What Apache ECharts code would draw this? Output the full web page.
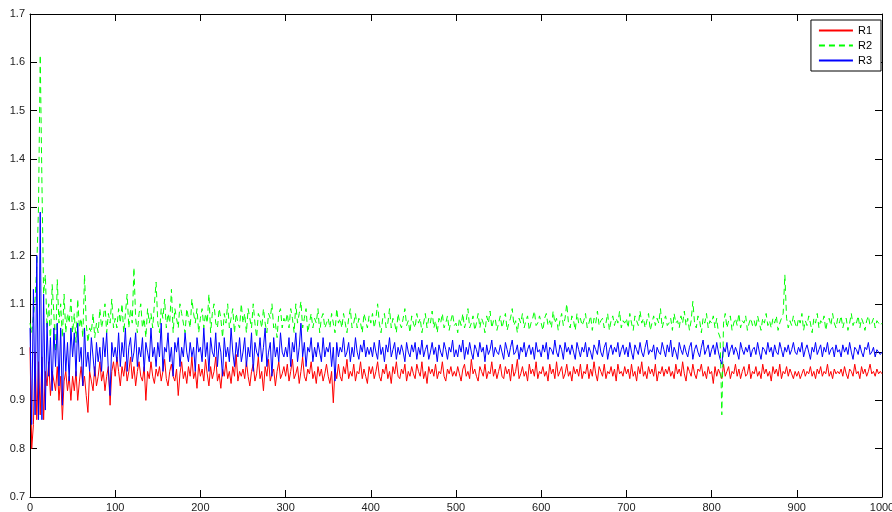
<!DOCTYPE html>
<html>
<head>
<meta charset="utf-8">
<script src="https://cdn.jsdelivr.net/npm/echarts@6/dist/echarts.min.js"></script>
<style>html,body{margin:0;padding:0;background:#fff}#c{width:892px;height:512px}</style>
</head>
<body>
<div id="c"></div>
<script>
// x step between samples (iterations)
const xStep = 2;
const xTicks = [0,100,200,300,400,500,600,700,800,900,1000];
const yTicks = [0.7,0.8,0.9,1,1.1,1.2,1.3,1.4,1.5,1.6,1.7];
const seriesNames = ['R1','R2','R3'];

// values in thousandths
const R1 = [
1010,800,850,1000,860,980,870,990,860,960,930,980,910,960,940,920,970,900,950,860,940,960,920,950,900,
950,920,960,900,940,970,930,950,910,875,960,940,920,970,930,950,980,940,960,920,950,970,890,960,980,
950,990,960,930,970,950,980,940,960,990,945,970,930,960,980,950,940,970,900,960,945,980,950,935,965,
950,970,940,960,985,945,930,960,975,950,940,965,910,955,980,945,960,935,970,950,990,945,960,925,975,
950,965,940,985,955,930,970,945,960,990,940,955,925,965,950,980,945,960,935,970,950,995,940,960,950,
965,945,980,950,930,960,975,940,955,990,945,960,920,970,950,985,940,955,965,930,960,980,945,955,970,
950,975,940,960,985,945,955,970,935,960,990,950,940,965,955,980,945,960,935,970,950,965,940,955,975,
950,935,960,895,965,945,975,950,940,970,955,985,945,960,950,975,940,960,955,980,945,965,950,935,970,
955,970,945,960,980,950,940,965,955,975,945,960,935,970,955,980,950,945,965,955,975,940,960,950,970,
955,945,975,960,950,980,945,960,935,970,955,965,950,975,945,960,955,980,950,940,965,955,970,950,960,
950,970,955,940,965,975,950,960,945,985,955,965,950,940,970,960,950,975,945,960,955,980,950,965,945,
960,975,950,945,970,955,965,940,975,950,960,985,945,955,970,950,960,940,975,955,965,950,980,945,960,
955,970,950,960,940,975,955,965,945,980,950,960,970,945,955,975,950,960,940,970,955,965,950,975,945,
960,955,975,945,965,950,980,955,940,970,960,950,975,945,960,955,970,950,965,940,975,955,960,950,970,
955,965,945,975,950,960,940,970,955,980,950,960,945,970,955,965,950,975,940,960,955,970,950,965,955,
970,950,960,945,975,955,965,950,980,955,940,970,960,950,975,955,945,965,960,975,950,960,945,970,955,
960,935,970,950,965,955,945,975,950,960,970,945,960,955,975,950,965,945,960,970,950,955,975,945,960,
955,970,950,960,945,975,955,965,950,960,940,970,955,965,950,975,945,960,955,970,950,965,955,945,960,
950,960,945,955,965,950,960,955,970,950,960,945,965,955,970,950,960,955,975,950,960,945,965,955,960,
955,965,950,970,955,945,965,960,950,975,955,960,945,970,955,965,950,960,975,955,960,950,965,955,960,
955];

const R2 = [
1060,1040,1075,1110,1180,1300,1615,1350,1120,1160,1050,1100,1020,1140,1080,1000,1150,1060,1100,1030,1120,1040,1080,1060,1110,
1040,1080,1020,1110,1050,1070,1030,1160,1060,1020,1050,1040,1080,1030,1060,1040,1090,1050,1070,1100,1040,1080,1060,1110,1050,
1070,1050,1090,1060,1100,1040,1080,1120,1050,1090,1060,1175,1070,1040,1080,1100,1050,1070,1030,1090,1060,1080,1050,1100,1145,
1060,1040,1090,1070,1110,1050,1080,1060,1130,1040,1090,1070,1050,1100,1080,1060,1040,1090,1070,1050,1110,1080,1060,1090,1040,
1070,1090,1050,1080,1060,1120,1040,1080,1100,1060,1050,1090,1070,1030,1080,1060,1100,1050,1070,1090,1040,1080,1060,1050,1100,
1060,1080,1040,1090,1070,1050,1100,1060,1030,1080,1070,1050,1090,1060,1040,1080,1070,1100,1050,1060,1030,1080,1090,1050,1070,
1060,1080,1050,1090,1070,1040,1100,1060,1080,1105,1050,1070,1090,1040,1060,1080,1050,1070,1060,1090,1040,1070,1080,1050,1060,
1070,1050,1080,1060,1040,1090,1060,1070,1050,1080,1060,1040,1070,1090,1050,1060,1080,1050,1070,1060,1040,1080,1065,1050,1075,
1060,1080,1050,1070,1100,1060,1040,1070,1080,1050,1060,1090,1050,1070,1060,1040,1080,1060,1050,1070,1090,1055,1065,1040,1075,
1060,1050,1080,1060,1070,1040,1060,1080,1050,1070,1060,1085,1050,1065,1040,1070,1060,1080,1050,1060,1075,1045,1065,1080,1055,
1060,1040,1070,1055,1080,1050,1065,1090,1050,1060,1075,1045,1060,1080,1050,1070,1060,1040,1075,1060,1085,1050,1065,1070,1045,
1060,1075,1050,1065,1080,1045,1060,1070,1090,1055,1065,1040,1070,1060,1080,1050,1065,1075,1045,1060,1070,1085,1055,1060,1075,
1060,1045,1070,1080,1055,1065,1050,1085,1060,1070,1045,1065,1080,1055,1070,1100,1060,1050,1075,1065,1045,1080,1060,1070,1055,
1065,1080,1050,1060,1075,1045,1070,1060,1085,1055,1065,1070,1050,1060,1080,1045,1065,1075,1055,1070,1060,1085,1050,1065,1060,
1070,1050,1080,1060,1045,1075,1065,1055,1085,1060,1070,1050,1065,1080,1045,1060,1075,1055,1070,1060,1090,1050,1065,1075,1055,
1060,1070,1045,1080,1060,1065,1050,1075,1060,1085,1055,1070,1045,1065,1105,1060,1050,1075,1065,1040,1070,1060,1080,1050,1065,
1060,1075,1050,1070,1040,1030,870,1060,1080,1050,1065,1075,1045,1060,1070,1055,1080,1050,1065,1060,1075,1045,1060,1070,1055,
1065,1050,1075,1060,1045,1070,1060,1080,1055,1065,1050,1070,1060,1075,1045,1060,1070,1080,1160,1070,1050,1065,1055,1075,1060,
1050,1070,1060,1080,1045,1065,1055,1075,1060,1040,1070,1060,1080,1050,1065,1060,1075,1045,1065,1070,1055,1080,1060,1050,1070,
1060,1075,1050,1065,1070,1045,1060,1080,1055,1065,1060,1075,1050,1070,1060,1045,1065,1075,1055,1060,1070,1050,1065,1060,1055,
1060];

const R3 = [
1050,850,1130,870,1200,860,1290,860,1120,880,1060,950,1030,920,1050,970,1060,930,1050,890,1040,960,1020,940,1050,
990,1040,950,1060,980,1010,930,1050,970,1000,960,1030,990,950,1020,980,1010,960,1030,990,1040,960,910,1020,990,
1010,980,1040,970,1020,990,1050,960,1010,1030,980,1000,1040,970,1010,990,1030,960,1020,1000,980,1050,990,1010,970,
1020,990,1060,960,1010,1000,1040,980,1010,950,1020,1000,1030,970,1010,990,1040,1000,980,1020,990,1010,960,1030,1000,
1010,980,1050,990,1020,960,1030,1000,990,1040,970,1020,1000,950,1030,990,1010,980,1050,1000,970,1020,990,1030,980,
1000,1030,970,1010,990,1040,960,1020,1000,990,1030,980,1010,1050,970,1000,1020,950,1030,990,1010,980,1040,1000,990,
1010,990,1030,970,1020,1000,1040,980,1010,1060,990,1020,970,1010,1000,1030,980,1010,990,1020,1000,980,1030,990,1010,
1000,1020,970,1010,940,1020,990,1010,1000,1030,990,1000,1020,980,1010,990,1030,1000,985,1015,1000,1025,990,1010,995,
1010,990,1020,1000,985,1025,995,1010,980,1015,1000,1030,990,1005,1020,985,1010,995,1015,1000,980,1020,1000,990,1015,
1000,1020,985,1010,995,1025,990,1005,1015,985,1000,1020,995,1010,980,1015,1000,990,1020,1005,985,1010,1000,1025,990,
1005,990,1015,1000,1025,985,1010,995,1020,1000,985,1015,1005,990,1020,1000,1010,980,1015,995,1005,1025,990,1010,1000,
995,1015,1000,985,1020,1005,990,1010,1025,995,1000,1015,985,1010,1000,1020,990,1005,1015,995,1010,985,1020,1000,1005,
990,1015,1000,1020,985,1010,1005,995,1025,1000,990,1015,1005,985,1020,1000,1010,995,1015,1000,985,1020,1005,990,1010,
1000,1020,990,1010,1000,985,1015,1005,995,1025,1000,990,1010,1020,985,1005,1015,995,1010,1000,1020,990,1005,1015,995,
1010,990,1020,1000,985,1015,1005,995,1020,1000,990,1010,1025,995,1005,1000,1015,985,1010,1000,995,1020,1005,990,1015,
1000,1025,990,1010,1000,985,1020,1005,995,1015,1000,990,1010,1020,985,1005,1015,1000,990,1010,1025,995,1005,1015,990,
1005,1015,995,1020,1000,985,975,1010,1000,1020,990,1005,1015,995,1010,1000,985,1020,1005,995,1010,1000,1015,990,1005,
1010,995,1020,1000,985,1010,1005,995,1020,1000,1010,990,1015,1000,995,1020,1005,990,1010,1000,1015,995,1005,1020,1000,
995,1010,1000,1020,990,1005,1015,1000,985,1010,1000,1020,995,1005,1015,990,1010,1000,1020,995,1005,1010,990,1015,1000,
1005,990,1015,1000,1010,995,1020,1000,985,1010,1005,995,1015,1000,990,1010,1005,1020,995,1000,1010,990,1005,1000,995,
1000];

const toPairs = arr => arr.map((v, i) => [i * xStep, v / 1000]);

const chart = echarts.init(document.getElementById('c'), null, {renderer: 'canvas'});
const font = 'Liberation Sans, Arial, Helvetica, sans-serif';
const axisCommon = {
  axisLine: {show: true, onZero: false, lineStyle: {color: '#000', width: 1}},
  axisTick: {show: true, inside: true, length: 7, lineStyle: {color: '#000', width: 1}},
  splitLine: {show: false}
};
chart.setOption({
  animation: false,
  backgroundColor: '#fff',
  grid: {left: 30, right: 10, top: 14, bottom: 15, containLabel: false, outerBoundsMode: 'none'},
  legend: {
    right: 11, top: 20, orient: 'vertical',
    backgroundColor: '#fff', borderColor: '#000', borderWidth: 1, borderRadius: 0,
    padding: [5, 9, 5, 7], itemGap: 4, itemWidth: 34, itemHeight: 12,
    itemStyle: {opacity: 0},
    textStyle: {fontFamily: font, fontSize: 11, color: '#000'},
    data: seriesNames
  },
  xAxis: [
    Object.assign({type: 'value', min: xTicks[0], max: xTicks[xTicks.length - 1], interval: 100, position: 'bottom',
      axisLabel: {fontFamily: font, fontSize: 11, color: '#222', margin: 5, formatter: v => String(v)}}, axisCommon),
    Object.assign({type: 'value', min: xTicks[0], max: xTicks[xTicks.length - 1], interval: 100, position: 'top',
      axisLabel: {show: false}}, axisCommon)
  ],
  yAxis: [
    Object.assign({type: 'value', min: yTicks[0], max: yTicks[yTicks.length - 1], interval: 0.1, position: 'left',
      axisLabel: {fontFamily: font, fontSize: 11, color: '#222', margin: 5, formatter: v => String(+v.toFixed(1))}}, axisCommon),
    Object.assign({type: 'value', min: yTicks[0], max: yTicks[yTicks.length - 1], interval: 0.1, position: 'right',
      axisLabel: {show: false}}, axisCommon)
  ],
  series: [
    {name: 'R1', type: 'line', data: toPairs(R1), showSymbol: false, symbol: 'none',
      lineStyle: {color: '#ff0000', width: 1}, itemStyle: {color: '#ff0000'}, z: 2},
    {name: 'R2', type: 'line', data: toPairs(R2), showSymbol: false, symbol: 'none',
      lineStyle: {color: '#00ff00', width: 1, type: [6, 4]}, itemStyle: {color: '#00ff00'}, z: 3},
    {name: 'R3', type: 'line', data: toPairs(R3), showSymbol: false, symbol: 'none',
      lineStyle: {color: '#0000ff', width: 1}, itemStyle: {color: '#0000ff'}, z: 4}
  ]
});
</script>
</body>
</html>
